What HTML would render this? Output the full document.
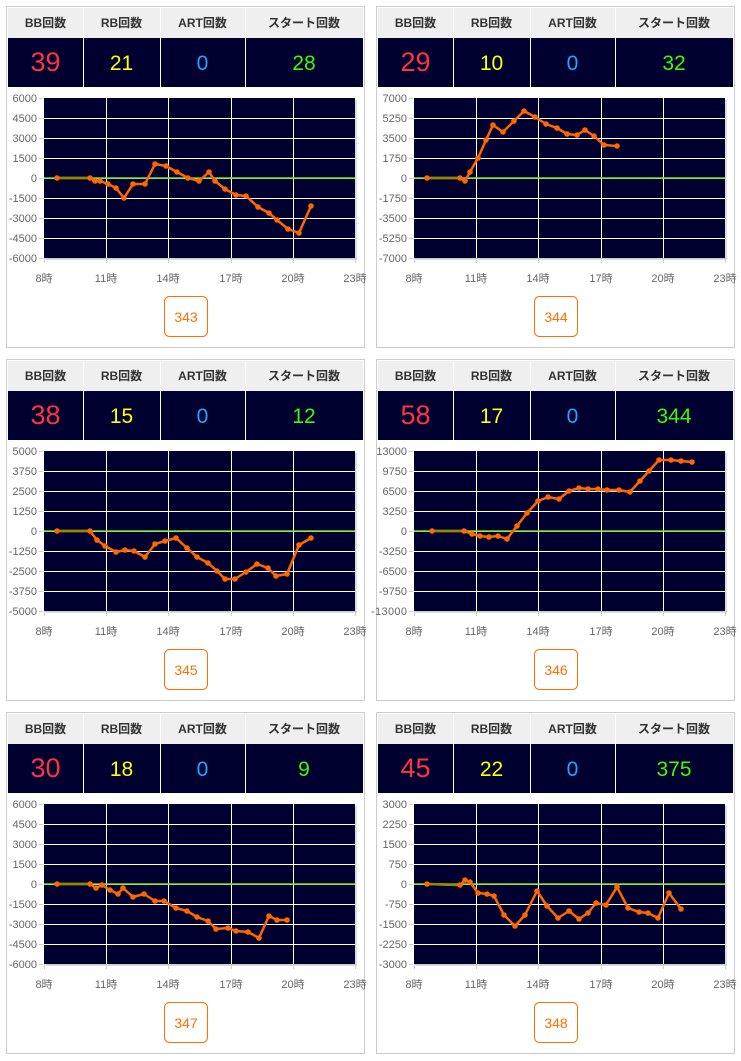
<!DOCTYPE html>
<html><head><meta charset="utf-8"><style>
body{margin:0;background:#fff;}
svg{display:block;font-family:"Liberation Sans","Noto Sans CJK JP",sans-serif;}
</style></head><body>
<svg id="s" width="741" height="1061" xmlns="http://www.w3.org/2000/svg"></svg>
<script>
var P=[
{dx:0,dy:0,v:["39","21","0","28"],btn:"343",yl:["6000","4500","3000","1500","0","-1500","-3000","-4500","-6000"],
pts:[[57,178],[90,178],[95,181],[100,181],[108,184],[116,188],[124,198],[133,184],[145,184],[155,164],[166,166],[177,172],[188,178],[199,181],[209,172],[215,181],[225,189],[236,195],[246,196],[258,207],[269,213],[277,220],[288,229],[299,233],[311,206]]},
{dx:370,dy:0,v:["29","10","0","32"],btn:"344",yl:["7000","5250","3500","1750","0","-1750","-3500","-5250","-7000"],
pts:[[427,178],[460,178],[465,181],[470,172],[478,158],[486,140],[493,125],[503,132],[514,121],[524,111],[535,117],[546,124],[557,128],[567,134],[577,135],[585,130],[594,136],[604,145],[617,146]]},
{dx:0,dy:353,v:["38","15","0","12"],btn:"345",yl:["5000","3750","2500","1250","0","-1250","-2500","-3750","-5000"],
pts:[[57,531],[90,531],[97,540],[105,546],[116,552],[125,550],[134,551],[145,557],[155,544],[165,541],[176,538],[187,548],[197,557],[208,563],[217,571],[225,579],[235,579],[246,572],[257,564],[268,568],[276,576],[287,574],[299,545],[311,538]]},
{dx:370,dy:353,v:["58","17","0","344"],btn:"346",yl:["13000","9750","6500","3250","0","-3250","-6500","-9750","-13000"],
pts:[[432,531],[464,531],[472,534],[480,536],[489,537],[498,536],[507,539],[517,526],[527,513],[538,501],[548,497],[559,499],[569,491],[579,488],[588,489],[598,489],[607,490],[619,490],[630,492],[640,481],[649,471],[659,460],[671,460],[681,461],[692,462]]},
{dx:0,dy:706,v:["30","18","0","9"],btn:"347",yl:["6000","4500","3000","1500","0","-1500","-3000","-4500","-6000"],
pts:[[57,884],[90,884],[96,888],[102,885],[110,890],[118,894],[123,888],[133,897],[144,894],[155,901],[164,901],[176,908],[187,911],[197,917],[208,921],[216,929],[228,928],[236,931],[248,932],[259,938],[269,916],[277,920],[287,920]]},
{dx:370,dy:706,v:["45","22","0","375"],btn:"348",yl:["3000","2250","1500","750","0","-750","-1500","-2250","-3000"],
pts:[[427,884],[460,885],[465,880],[470,882],[478,893],[487,894],[494,896],[504,915],[515,926],[525,915],[537,891],[547,906],[558,918],[569,911],[579,919],[588,913],[596,903],[606,905],[617,887],[628,908],[639,912],[648,913],[658,918],[669,893],[681,909]]}
];
var h="";
var cols=[8,83,160,245,363],hd=["BB回数","RB回数","ART回数","スタート回数"],cc=["#ff3340","#ffff00","#1aa8ff","#33ff00"],fs=[27,21,21,21];
P.forEach(function(p){
 var X=p.dx,Y=p.dy;
 h+='<g transform="translate('+X+','+Y+')">';
 h+='<rect x="6.5" y="6.5" width="358" height="341" fill="#fff" stroke="#cccccc"/>';
 h+='<rect x="8" y="8" width="355" height="30" fill="#efefef"/>';
 h+='<rect x="8" y="38" width="355" height="49" fill="#000030"/>';
 for(var i=1;i<4;i++){h+='<line x1="'+cols[i]+'.5" y1="8" x2="'+cols[i]+'.5" y2="87" stroke="#fff"/>';}
 for(var i=0;i<4;i++){var cx=(cols[i]+cols[i+1])/2;
  h+='<text x="'+cx+'" y="27" font-size="12" font-weight="bold" fill="#333" text-anchor="middle">'+hd[i]+'</text>';
  h+='<text x="'+cx+'" y="'+(i==0?71:70)+'" font-size="'+fs[i]+'" fill="'+cc[i]+'" text-anchor="middle">'+p.v[i]+'</text>';}
 h+='<rect x="46" y="100" width="311" height="160" fill="#dddddd"/>';
 h+='<rect x="44" y="98" width="311" height="160" fill="#000030"/>';
 for(var j=1;j<8;j++){var y=98+j*20;h+='<line x1="44" y1="'+(y+0.5)+'" x2="355" y2="'+(y+0.5)+'" stroke="#fff" stroke-width="1"/>';}
 var xs=[44,106,168,231,293,355],xl=["8時","11時","14時","17時","20時","23時"];
 for(var j=1;j<5;j++){h+='<line x1="'+(xs[j]+0.5)+'" y1="98" x2="'+(xs[j]+0.5)+'" y2="258" stroke="#fff"/>';}
 h+='<line x1="44" y1="258.5" x2="357" y2="258.5" stroke="#ccc"/>';
 for(var j=0;j<6;j++){h+='<line x1="'+xs[j]+'.5" y1="258" x2="'+xs[j]+'.5" y2="263" stroke="#ccc"/><text x="'+xs[j]+'" y="282" font-size="11" fill="#666" text-anchor="middle">'+xl[j]+'</text>';}
 for(var j=0;j<9;j++){var y=98+j*20;h+='<line x1="39" y1="'+y+'.5" x2="43" y2="'+y+'.5" stroke="#ccc"/><text x="37" y="'+(y+4)+'" font-size="11" fill="#666" text-anchor="end" textLength="'+(p.yl[j].length>5?36:undefined)+'">'+p.yl[j]+'</text>';}
 h+='</g>';
 var d=p.pts.map(function(q){return q[0]+','+q[1]}).join(' ');
 h+='<line x1="'+(X+44)+'" y1="'+(Y+178)+'" x2="'+(X+355)+'" y2="'+(Y+178)+'" stroke="#66e020" stroke-width="1.5"/>';
 h+='<polyline points="'+d+'" fill="none" stroke="#ff6600" stroke-width="2.5" stroke-linejoin="round"/>';
 var a=p.pts[0],b=p.pts[1];
 h+='<line x1="'+a[0]+'" y1="'+a[1]+'" x2="'+b[0]+'" y2="'+b[1]+'" stroke="#8c8a00" stroke-width="2.5"/>';
 p.pts.forEach(function(q){h+='<circle cx="'+q[0]+'" cy="'+q[1]+'" r="2.8" fill="#ff6600"/>';});
 h+='<rect x="'+(X+164.5)+'" y="'+(Y+296.5)+'" width="43" height="40" rx="5" fill="#fff" stroke="#ff7000"/>';
 h+='<text x="'+(X+186)+'" y="'+(Y+322)+'" font-size="14" fill="#ff7000" text-anchor="middle">'+p.btn+'</text>';
});
h=h.replace(/ textLength="undefined"/g,'');
document.getElementById("s").innerHTML=h;
</script>
</body></html>
